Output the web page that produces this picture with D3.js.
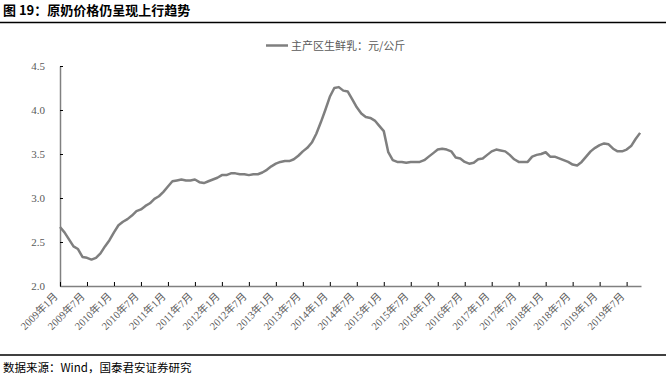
<!DOCTYPE html>
<html><head><meta charset="utf-8">
<script src="https://cdn.jsdelivr.net/npm/d3@7"></script>
<style>
body{margin:0;background:#fff;}
svg{display:block;}
</style></head>
<body>
<svg id="c" width="670" height="380"></svg>
<script>
const title = "图 19：原奶价格仍呈现上行趋势";
const seriesName = "主产区生鲜乳：元/公斤";
const source = "数据来源：Wind，国泰君安证券研究";
// monthly, from 2009-01 to 2019-10
const startYear = 2009;
const values = [
2.67,2.61,2.53,2.45,2.42,2.33,2.32,2.30,2.32,2.37,2.45,2.52,
2.61,2.69,2.73,2.76,2.80,2.85,2.87,2.91,2.94,2.99,3.02,3.07,
3.13,3.19,3.20,3.21,3.20,3.20,3.21,3.18,3.17,3.19,3.21,3.23,
3.26,3.26,3.28,3.28,3.27,3.27,3.26,3.27,3.27,3.29,3.32,3.36,
3.39,3.41,3.42,3.42,3.44,3.48,3.53,3.57,3.63,3.73,3.86,4.00,
4.15,4.25,4.26,4.22,4.21,4.12,4.03,3.96,3.92,3.91,3.88,3.82,
3.76,3.52,3.43,3.41,3.41,3.40,3.41,3.41,3.41,3.43,3.47,3.51,
3.55,3.56,3.55,3.53,3.46,3.45,3.41,3.39,3.40,3.44,3.45,3.49,
3.53,3.55,3.54,3.53,3.49,3.44,3.41,3.41,3.41,3.47,3.49,3.50,
3.52,3.47,3.47,3.45,3.43,3.41,3.38,3.37,3.41,3.47,3.53,3.57,
3.60,3.62,3.61,3.56,3.53,3.53,3.55,3.59,3.67,3.74];
const yTicks = [2.0,2.5,3.0,3.5,4.0,4.5];
const xTickMonths = d3.range(0, 127, 6);
const xTickLabels = xTickMonths.map(m => (startYear + Math.floor(m/12)) + "年" + (m%12+1) + "月");

const svg = d3.select("#c");
const L = 60, R = 641, T = 66, B = 286;
const x = d3.scaleLinear().domain([0, 129.2]).range([L, R]);
const y = d3.scaleLinear().domain([2.0, 4.5]).range([B, T]);

// title
svg.append("text").attr("x", 3).attr("y", 15)
  .style("font-family", "'Noto Sans CJK SC'").style("font-weight", "bold")
  .style("font-size", "13px").attr("fill", "#000").text(title);
svg.append("line").attr("x1", 0).attr("x2", 666).attr("y1", 22.5).attr("y2", 22.5)
  .attr("stroke", "#000").attr("stroke-width", 1.5);

// legend
svg.append("line").attr("x1", 266).attr("x2", 288).attr("y1", 45.5).attr("y2", 45.5)
  .attr("stroke", "#7f7f7f").attr("stroke-width", 2.5);
svg.append("text").attr("x", 291).attr("y", 49.5)
  .style("font-family", "'Noto Sans CJK SC'").style("font-size", "11px")
  .attr("fill", "#595959").text(seriesName);

// y axis
const yAxis = d3.axisLeft(y).tickValues(yTicks).tickFormat(d3.format(".1f")).tickSizeInner(-3).tickSizeOuter(0).tickPadding(15);
const gy = svg.append("g").attr("transform", `translate(${L},0)`).call(yAxis);
gy.select(".domain").attr("stroke", "#808080").attr("stroke-width", 1.5);
gy.selectAll(".tick line").attr("stroke", "#000");
gy.selectAll(".tick text").style("font-family", "'Liberation Serif'").style("font-size", "11px").attr("fill", "#595959");

// x axis
const xAxis = d3.axisBottom(x).tickValues(xTickMonths).tickFormat((d,i) => xTickLabels[i]).tickSizeInner(-4).tickSizeOuter(0);
const gx = svg.append("g").attr("transform", `translate(0,${B})`).call(xAxis);
gx.select(".domain").attr("stroke", "#808080").attr("stroke-width", 1.5);
gx.selectAll(".tick line").attr("stroke", "#000");
gx.selectAll(".tick text")
  .style("font-family", "'Liberation Serif','Noto Sans CJK SC'").style("font-size", "10.5px").attr("fill", "#595959")
  .attr("text-anchor", "end").attr("dy", null).attr("y", 0)
  .attr("transform", "translate(-2,11) rotate(-45)");

// line
const line = d3.line().x((d,i) => x(i)).y(d => y(d));
svg.append("path").datum(values).attr("d", line)
  .attr("fill", "none").attr("stroke", "#7f7f7f").attr("stroke-width", 2.5)
  .attr("stroke-linejoin", "round");

// bottom
svg.append("line").attr("x1", 0).attr("x2", 666).attr("y1", 355).attr("y2", 355)
  .attr("stroke", "#000").attr("stroke-width", 1.5);
svg.append("text").attr("x", 3).attr("y", 372)
  .style("font-family", "'Noto Sans CJK SC'").style("font-size", "11.5px")
  .attr("fill", "#000").text(source);
</script>
</body></html>
